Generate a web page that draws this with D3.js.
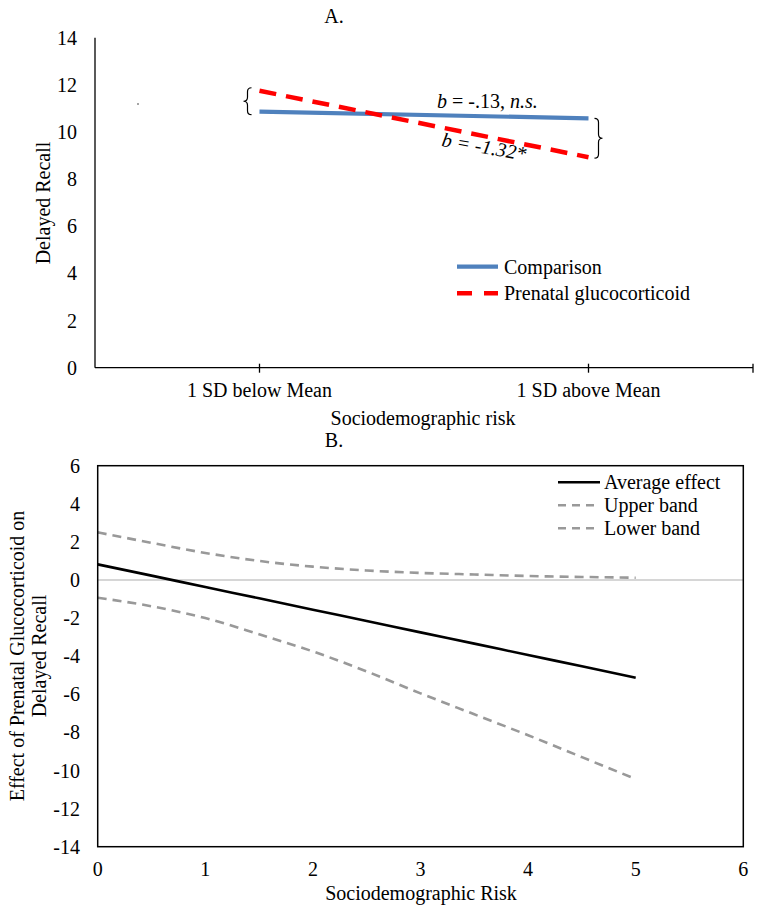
<!DOCTYPE html>
<html>
<head>
<meta charset="utf-8">
<script src="https://cdn.jsdelivr.net/npm/d3@7"></script>
<style>
  html, body { margin: 0; padding: 0; background: #fff; }
  svg { display: block; }
  text { font-family: "Liberation Serif", "Times New Roman", serif; font-size: 20px; fill: #000; }
</style>
</head>
<body>
<svg id="chart" width="762" height="909"></svg>
<script>
// ---------- Panel A data ----------
const panelACategories = ["1 SD below Mean", "1 SD above Mean"];
const panelARiskLevel = [1, 3];
const comparisonValues = [10.86, 10.58];
const prenatalValues = [11.75, 8.93];
const panelAYTicks = [0, 2, 4, 6, 8, 10, 12, 14];
const panelASeriesNames = ["Comparison", "Prenatal glucocorticoid"];

// ---------- Panel B data ----------
const riskValues = [0, 0.5, 1, 1.5, 2, 2.5, 3, 3.5, 4, 4.5, 5];
const averageEffect = [0.82, 0.23, -0.37, -0.96, -1.56, -2.15, -2.75, -3.34, -3.94, -4.53, -5.13];
const upperBand = [2.5, 1.95, 1.42, 1.0, 0.7, 0.5, 0.37, 0.29, 0.21, 0.16, 0.12];
const lowerBand = [-0.93, -1.38, -2.0, -2.85, -3.75, -4.8, -5.95, -7.05, -8.15, -9.3, -10.45];
const panelBXTicks = [0, 1, 2, 3, 4, 5, 6];
const panelBYTicks = [6, 4, 2, 0, -2, -4, -6, -8, -10, -12, -14];
const panelBSeriesNames = ["Average effect", "Upper band", "Lower band"];

const svg = d3.select("#chart");
const BLUE = "#4f81bd", RED = "#ff0000", GRAY = "#999999";

// ================= PANEL A =================
const xA = d3.scaleLinear().domain([0, 4]).range([95, 753]);
const yA = d3.scaleLinear().domain([0, 14]).range([367.7, 37.7]);

const gA = svg.append("g");
gA.append("text").attr("x", 334).attr("y", 16).attr("dy", "0.35em")
  .attr("text-anchor", "middle").text("A.");

// y axis line and labels
gA.append("line").attr("x1", xA(0)).attr("x2", xA(0))
  .attr("y1", yA(14)).attr("y2", yA(0)).attr("stroke", "#000").attr("stroke-width", 1.3);
gA.selectAll(".ytA").data(panelAYTicks).join("text")
  .attr("x", 77).attr("y", d => yA(d)).attr("dy", "0.35em")
  .attr("text-anchor", "end").text(d => d);

// x axis line + ticks
gA.append("line").attr("x1", xA(0)).attr("x2", xA(4))
  .attr("y1", yA(0)).attr("y2", yA(0)).attr("stroke", "#000").attr("stroke-width", 1.3);
gA.selectAll(".xtA").data([1, 3, 4]).join("line")
  .attr("x1", d => xA(d)).attr("x2", d => xA(d))
  .attr("y1", yA(0) - 4).attr("y2", yA(0) + 5)
  .attr("stroke", "#000").attr("stroke-width", 1.3);
gA.selectAll(".xlA").data(panelACategories).join("text")
  .attr("x", (d, i) => xA(panelARiskLevel[i])).attr("y", 390).attr("dy", "0.35em")
  .attr("text-anchor", "middle").text(d => d);

gA.append("text").attr("x", 423).attr("y", 418).attr("dy", "0.35em")
  .attr("text-anchor", "middle").text("Sociodemographic risk");
gA.append("text").attr("transform", "translate(43,203) rotate(-90)")
  .attr("dy", "0.35em").attr("text-anchor", "middle").text("Delayed Recall");

// stray dot in source
gA.append("circle").attr("cx", 138).attr("cy", 104).attr("r", 0.8).attr("fill", "#333");

const lineA = d3.line().x((d, i) => xA(panelARiskLevel[i])).y(d => yA(d));
gA.append("path").datum(comparisonValues).attr("d", lineA)
  .attr("fill", "none").attr("stroke", BLUE).attr("stroke-width", 4.2);
gA.append("path").datum(prenatalValues).attr("d", lineA)
  .attr("fill", "none").attr("stroke", RED).attr("stroke-width", 4.5)
  .attr("stroke-dasharray", "17,10");

// braces
function brace(x, y1, y2, d, s) {
  const ym = (y1 + y2) / 2;
  return `M${x - d * s},${y1} Q${x},${y1} ${x},${y1 + s} L${x},${ym - s} Q${x},${ym} ${x + d * s},${ym}` +
         ` Q${x},${ym} ${x},${ym + s} L${x},${y2 - s} Q${x},${y2} ${x - d * s},${y2}`;
}
gA.append("path").attr("d", brace(xA(panelARiskLevel[0]) - 12, yA(prenatalValues[0]) - 3, yA(comparisonValues[0]) + 3, -1, 4))
  .attr("fill", "none").attr("stroke", "#000").attr("stroke-width", 1.2);
gA.append("path").attr("d", brace(xA(panelARiskLevel[1]) + 10, yA(comparisonValues[1]), yA(prenatalValues[1]) + 1, 1, 4))
  .attr("fill", "none").attr("stroke", "#000").attr("stroke-width", 1.2);

// annotations
const ann1 = gA.append("text").attr("x", 437).attr("y", 108);
ann1.append("tspan").attr("font-style", "italic").text("b");
ann1.append("tspan").text(" = -.13, ");
ann1.append("tspan").attr("font-style", "italic").text("n.s.");

const ann2 = gA.append("text").attr("transform", "translate(441,146) rotate(10)").attr("font-style", "italic");
ann2.append("tspan").text("b = -1.32*");

// legend A
const legA = gA.append("g");
panelASeriesNames.forEach((name, i) => {
  const y = 266.7 + i * 26.6;
  legA.append("line").attr("x1", 457).attr("x2", 498).attr("y1", y).attr("y2", y)
    .attr("stroke", i === 0 ? BLUE : RED).attr("stroke-width", i === 0 ? 4.2 : 4.5)
    .attr("stroke-dasharray", i === 0 ? null : "15,12");
  legA.append("text").attr("x", 504).attr("y", y).attr("dy", "0.35em").text(name);
});

// ================= PANEL B =================
const xB = d3.scaleLinear().domain([0, 6]).range([97.7, 743.3]);
const yB = d3.scaleLinear().domain([-14, 6]).range([846.7, 465.7]);
const gB = svg.append("g");

gB.append("text").attr("x", 334).attr("y", 440).attr("dy", "0.35em")
  .attr("text-anchor", "middle").text("B.");

// zero line
gB.append("line").attr("x1", xB(0)).attr("x2", xB(6)).attr("y1", yB(0)).attr("y2", yB(0))
  .attr("stroke", "#c8c8c8").attr("stroke-width", 1.5);

gB.selectAll(".ytB").data(panelBYTicks).join("text")
  .attr("x", 80).attr("y", d => yB(d)).attr("dy", "0.35em")
  .attr("text-anchor", "end").text(d => d);
gB.selectAll(".xtB").data(panelBXTicks).join("text")
  .attr("x", d => xB(d)).attr("y", 868.5).attr("dy", "0.35em")
  .attr("text-anchor", "middle").text(d => d);

gB.append("text").attr("x", 421).attr("y", 892.5).attr("dy", "0.35em")
  .attr("text-anchor", "middle").text("Sociodemographic Risk");
gB.append("text").attr("transform", "translate(17,656) rotate(-90)")
  .attr("dy", "0.35em").attr("text-anchor", "middle").text("Effect of Prenatal Glucocorticoid on");
gB.append("text").attr("transform", "translate(39,656) rotate(-90)")
  .attr("dy", "0.35em").attr("text-anchor", "middle").text("Delayed Recall");

const lineB = d3.line().x((d, i) => xB(riskValues[i])).y(d => yB(d)).curve(d3.curveMonotoneX);
gB.append("path").datum(upperBand).attr("d", lineB).attr("fill", "none")
  .attr("stroke", GRAY).attr("stroke-width", 2.6).attr("stroke-dasharray", "9,6");
gB.append("path").datum(lowerBand).attr("d", lineB).attr("fill", "none")
  .attr("stroke", GRAY).attr("stroke-width", 2.6).attr("stroke-dasharray", "9,6");
gB.append("path").datum(averageEffect).attr("d", lineB).attr("fill", "none")
  .attr("stroke", "#000").attr("stroke-width", 2.6);

// frame
gB.append("rect").attr("x", xB(0)).attr("y", yB(6)).attr("width", xB(6) - xB(0)).attr("height", yB(-14) - yB(6))
  .attr("fill", "none").attr("stroke", "#000").attr("stroke-width", 1.5);

// legend B
panelBSeriesNames.forEach((name, i) => {
  const y = 482.3 + i * 23;
  gB.append("line").attr("x1", 558).attr("x2", 600).attr("y1", y).attr("y2", y)
    .attr("stroke", i === 0 ? "#000" : GRAY).attr("stroke-width", 2.6)
    .attr("stroke-dasharray", i === 0 ? null : "8,6");
  gB.append("text").attr("x", 604).attr("y", y).attr("dy", "0.35em").text(name);
});
</script>
</body>
</html>
